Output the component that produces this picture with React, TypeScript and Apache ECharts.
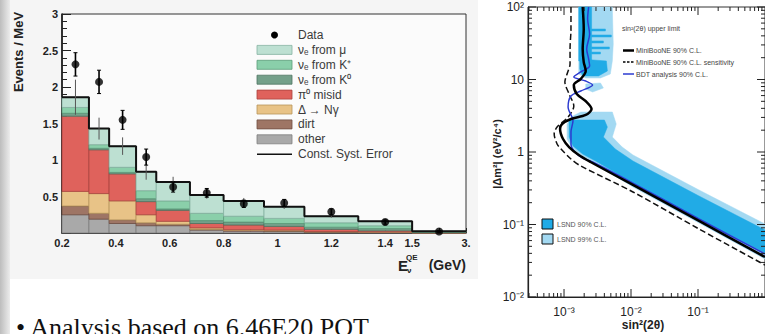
import React, { useEffect, useRef } from "react";
import * as echarts from "echarts";

// ---------------- Left chart: MiniBooNE nu_e candidate spectrum ----------------
const BIN_EDGES = [0.2, 0.3, 0.375, 0.475, 0.55, 0.675, 0.8, 0.95, 1.1, 1.3, 1.5, 3.0];
const OTHER = [0.25, 0.19, 0.13, 0.1, 0.1, 0.04, 0.025, 0.02, 0.01, 0.006, 0.002];
const DIRT = [0.12, 0.08, 0.05, 0.04, 0.02, 0.01, 0.01, 0.01, 0.005, 0.004, 0.001];
const DELTA_NGAMMA = [0.2, 0.27, 0.26, 0.11, 0.04, 0.02, 0.01, 0.01, 0.005, 0.004, 0.001];
const PI0_MISID = [1.03, 0.6, 0.37, 0.18, 0.15, 0.06, 0.065, 0.05, 0.03, 0.016, 0.003];
const NUE_K0 = [0.04, 0.02, 0.02, 0.04, 0.02, 0.04, 0.04, 0.04, 0.03, 0.03, 0.005];
const NUE_KPLUS = [0.08, 0.05, 0.07, 0.11, 0.11, 0.1, 0.08, 0.07, 0.06, 0.04, 0.006];
const NUE_MU = [0.14, 0.22, 0.29, 0.26, 0.26, 0.25, 0.21, 0.16, 0.09, 0.06, 0.007];
const DATA_VALUES = [2.31, 2.07, 1.55, 1.04, 0.63, 0.55, 0.4, 0.41, 0.29, 0.15, 0.02];
const DATA_ERRORS = [0.16, 0.16, 0.13, 0.11, 0.07, 0.06, 0.05, 0.05, 0.04, 0.03, 0.01];
const SYST_ERRORS = [0.24, 0.15, 0.12, 0.11, 0.07, 0.05, 0.04, 0.03, 0.02, 0.015, 0.005];
const X_LABEL_VALUES = [0.2, 0.4, 0.6, 0.8, 1.0, 1.2, 1.4, 1.5, 3.0];
const X_LABEL_TEXTS = ["0.2", "0.4", "0.6", "0.8", "1", "1.2", "1.4", "1.5", "3."];
const Y_LABEL_VALUES = [0.5, 1, 1.5, 2, 2.5, 3];
const Y_LABEL_TEXTS = ["0.5", "1", "1.5", "2", "2.5", "3"];

const LAYERS = [
  { name: "other", values: OTHER, color: "#a9a9a9", edge: "#7d7d7d" },
  { name: "dirt", values: DIRT, color: "#9e7565", edge: "#6e4e42" },
  { name: "Δ → Nγ", values: DELTA_NGAMMA, color: "#e8c387", edge: "#b8955c" },
  { name: "π⁰ misid", values: PI0_MISID, color: "#df625c", edge: "#a8423d" },
  { name: "νₑ from K⁰", values: NUE_K0, color: "#74a08a", edge: "#4f7562" },
  { name: "νₑ from K⁺", values: NUE_KPLUS, color: "#8acfaa", edge: "#5c9c7a" },
  { name: "νₑ from μ", values: NUE_MU, color: "#bde0d2", edge: "#86b3a2" },
];

// ---------------- Right chart: exclusion contours ----------------
const MB_90_CL = [[1.9e-3, 100], [1.97e-3, 49.7], [1.9e-3, 26.4], [1.97e-3, 17.4], [2.11e-3, 13.1], [1.78e-3, 10.2], [1.4e-3, 8.4], [1.55e-3, 6.31], [2.18e-3, 4.89], [2.58e-3, 3.92], [2.11e-3, 3.24], [1.27e-3, 2.85], [9.35e-4, 2.43], [8.73e-4, 2.08], [9.67e-4, 1.51], [1.19e-3, 1.17], [1.66e-3, 0.909], [2.49e-3, 0.728], [1.07e-2, 0.351], [0.1035, 0.112], [1.0, 0.0356]];
const MB_90_SENS = [[1.27e-3, 100], [1.27e-3, 49.7], [1.23e-3, 26.4], [1.23e-3, 16.4], [1.11e-3, 11.9], [1.03e-3, 9.24], [1.19e-3, 6.31], [1.4e-3, 4.31], [1.15e-3, 3.04], [7.88e-4, 2.21], [7.13e-4, 1.77], [7.88e-4, 1.29], [9.03e-4, 1.1], [1.27e-3, 0.8], [1.78e-3, 0.641], [1.07e-2, 0.281], [0.1035, 0.0867], [1.0, 0.0276]];
const BDT_90_CL = [[2.33e-3, 100], [2.25e-3, 68.3], [2.41e-3, 42.4], [2.18e-3, 26.4], [2.33e-3, 19.2], [2.41e-3, 15.3], [1.78e-3, 12.7], [1.4e-3, 10.8], [2.11e-3, 9.53], [2.67e-3, 8.4], [1.78e-3, 6.94], [1.27e-3, 5.92], [1.15e-3, 4.18], [1.36e-3, 2.68], [1.27e-3, 1.89], [1.27e-3, 1.29], [1.45e-3, 1.0], [1.9e-3, 0.827], [2.67e-3, 0.728], [1.07e-2, 0.373], [0.1035, 0.119], [1.0, 0.0392]];
const LSND99_UPPER = [[1.66e-3, 100], [5.26e-3, 100], [5.43e-3, 30.9], [5.26e-3, 18.0], [4.91e-3, 11.9], [3.5e-3, 10.5], [2.11e-3, 10.5], [1.66e-3, 11.9]];
const LSND99_BLOB = [[2.11e-3, 8.67], [3.5e-3, 8.95], [3.87e-3, 7.64], [2.67e-3, 6.72], [2.11e-3, 7.39]];
const LSND99_LOWER = [[1.78e-3, 3.56], [5.26e-3, 3.56], [6.02e-3, 2.43], [5.26e-3, 1.61], [7.38e-3, 1.17], [1.07e-2, 0.909], [0.1035, 0.299], [1.0, 0.1016], [1.0, 0.0334], [0.1035, 0.105], [1.07e-2, 0.329], [2.96e-3, 0.683], [1.9e-3, 0.881], [1.36e-3, 1.1], [1.11e-3, 1.51], [1.11e-3, 2.43], [1.36e-3, 3.14]];
const LSND90_UPPER = [[1.66e-3, 100], [2.58e-3, 100], [2.58e-3, 18.0], [1.66e-3, 18.0]];
const LSND90_BLOCK = [[1.72e-3, 19.2], [4.29e-3, 18.0], [4.44e-3, 13.1], [3.27e-3, 11.2], [1.9e-3, 11.2], [1.72e-3, 14.0]];
const LSND90_LOWER = [[1.19e-3, 2.76], [4.01e-3, 2.76], [4.44e-3, 2.21], [3.87e-3, 1.61], [5.82e-3, 1.1], [1.07e-2, 0.751], [0.1035, 0.247], [1.0, 0.0839], [1.0, 0.0404], [0.1035, 0.119], [1.07e-2, 0.373], [2.96e-3, 0.751], [1.9e-3, 0.938], [1.36e-3, 1.21], [1.19e-3, 1.61]];
// [sinMin, sinMax, dmMin, dmMax]
const LSND90_STRIPES = [[2.58e-3, 4.15e-3, 46.7, 49.7], [2.58e-3, 5.08e-3, 38.6, 41.1], [2.58e-3, 3.87e-3, 31.9, 34.0], [2.58e-3, 4.75e-3, 26.4, 28.1], [2.58e-3, 3.5e-3, 22.5, 23.9]];
const X_LOG_EXPONENTS = [-3, -2, -1];
const X_LOG_LABELS = ["10⁻³", "10⁻²", "10⁻¹"];
const Y_LOG_EXPONENTS = [-2, -1, 0, 1, 2];
const Y_LOG_LABELS = ["10⁻²", "10⁻¹", "1", "10", "10²"];
const X_LOG_MIN = 2.9e-4;
const X_LOG_MAX = 1;
const Y_LOG_MIN = 0.01;
const Y_LOG_MAX = 100;

const FONT = '"Liberation Sans", Arial, Helvetica, sans-serif';
const LSND90_COLOR = "#21abe6";
const LSND99_COLOR = "#a3d9f2";
const BDT_COLOR = "#2c3bd0";

// energy -> display coordinate (last bin 1.5-3 GeV compressed)
const dispE = (e: number) => (e <= 1.5 ? e : 1.5 + (e - 1.5) * (0.2 / 1.5));

function buildOption(): any {
  const nb = BIN_EDGES.length - 1;
  const base = new Array(nb).fill(0);
  const centers = BIN_EDGES.slice(0, -1).map((e, i) => dispE((e + BIN_EDGES[i + 1]) / 2));

  const layerSeries = LAYERS.map((layer) => {
    const data = layer.values.map((v, i) => {
      const b = base[i];
      base[i] = b + v;
      return [dispE(BIN_EDGES[i]), dispE(BIN_EDGES[i + 1]), b, b + v];
    });
    return {
      type: "custom",
      name: layer.name,
      xAxisIndex: 0,
      yAxisIndex: 0,
      z: 2,
      encode: { x: [0, 1], y: [2, 3] },
      data,
      renderItem: (_p: any, api: any) => {
        const tl = api.coord([api.value(0), api.value(3)]);
        const br = api.coord([api.value(1), api.value(2)]);
        return {
          type: "rect",
          shape: { x: tl[0], y: tl[1], width: br[0] - tl[0], height: br[1] - tl[1] },
          style: { fill: layer.color, stroke: layer.edge, lineWidth: 0.8 },
        };
      },
    };
  });
  const totals = base.slice();
  const stepData = BIN_EDGES.map((e, i) => [dispE(e), totals[Math.min(i, nb - 1)]]);

  const vbar = (withCaps: boolean, color: string, width: number) => (_p: any, api: any) => {
    const x = api.value(0), y = api.value(1), err = api.value(2);
    const lo = api.coord([x, Math.max(0, y - err)]);
    const hi = api.coord([x, y + err]);
    const children: any[] = [
      { type: "line", shape: { x1: lo[0], y1: lo[1], x2: hi[0], y2: hi[1] }, style: { stroke: color, lineWidth: width } },
    ];
    if (withCaps) {
      children.push({ type: "line", shape: { x1: lo[0] - 2, y1: lo[1], x2: lo[0] + 2, y2: lo[1] }, style: { stroke: color, lineWidth: 1 } });
      children.push({ type: "line", shape: { x1: hi[0] - 2, y1: hi[1], x2: hi[0] + 2, y2: hi[1] }, style: { stroke: color, lineWidth: 1 } });
    }
    return { type: "group", children };
  };

  const polySeries = (polys: number[][][], color: string, z: number) => ({
    type: "custom",
    xAxisIndex: 1,
    yAxisIndex: 1,
    z,
    encode: { x: 0, y: 1 },
    data: polys.map((p, i) => [p[0][0], p[0][1], i]),
    renderItem: (_p: any, api: any) => {
      const poly = polys[api.value(2)];
      return {
        type: "polygon",
        shape: { points: poly.map((pt) => api.coord(pt)) },
        style: { fill: color, stroke: color, lineWidth: 0.5 },
      };
    },
  });

  const stripePolys = LSND90_STRIPES.map(([s0, s1, m0, m1]) => [[s0, m0], [s1, m0], [s1, m1], [s0, m1]]);

  // tick positions for the log-log frame
  const xMinor: number[] = [];
  for (let k = -4; k <= -1; k++) for (let m = 2; m <= 9; m++) { const v = m * Math.pow(10, k); if (v > X_LOG_MIN && v < X_LOG_MAX) xMinor.push(v); }
  const yMinor: number[] = [];
  for (let k = -2; k <= 1; k++) for (let m = 2; m <= 9; m++) yMinor.push(m * Math.pow(10, k));

  const tickSeries = {
    type: "custom",
    xAxisIndex: 1,
    yAxisIndex: 1,
    z: 6,
    encode: { x: 0, y: 1 },
    data: [[1e-3, 1]],
    renderItem: (params: any, api: any) => {
      const cs = params.coordSys;
      const L = cs.x, R = cs.x + cs.width, T = cs.y, B = cs.y + cs.height;
      const ch: any[] = [];
      const ln = (x1: number, y1: number, x2: number, y2: number) =>
        ch.push({ type: "line", shape: { x1, y1, x2, y2 }, style: { stroke: "#222", lineWidth: 1 } });
      X_LOG_EXPONENTS.forEach((e) => { const px = api.coord([Math.pow(10, e), 1])[0]; ln(px, B, px, B - 8); ln(px, T, px, T + 8); });
      xMinor.forEach((v) => { const px = api.coord([v, 1])[0]; ln(px, B, px, B - 4); ln(px, T, px, T + 4); });
      Y_LOG_EXPONENTS.forEach((e) => { const py = api.coord([1e-3, Math.pow(10, e)])[1]; ln(L, py, L + 8, py); ln(R, py, R - 8, py); });
      yMinor.forEach((v) => { const py = api.coord([1e-3, v])[1]; ln(L, py, L + 4, py); ln(R, py, R - 4, py); });
      return { type: "group", children: ch };
    },
  };

  const lineSeries = (data: number[][], color: string, width: number, type: string, z: number) => ({
    type: "line",
    xAxisIndex: 1,
    yAxisIndex: 1,
    data,
    symbol: "none",
    smooth: 0.3,
    z,
    lineStyle: { color, width, type },
  });

  // ---------- graphic elements: legends, titles, slide text ----------
  const g: any[] = [];
  const text = (x: number, y: number, t: string, o: any = {}) =>
    g.push({
      type: "text", x, y, rotation: o.rotation || 0, z: 20,
      style: {
        text: t, fill: o.fill || "#222", fontSize: o.size || 12, fontWeight: o.weight || "normal",
        fontFamily: o.family || FONT, textAlign: o.align || "left", textVerticalAlign: o.valign || "middle",
      },
    });

  // left legend
  const legendLayers = LAYERS.slice().reverse();
  const rowY = (i: number) => 35 + 14.9 * i;
  g.push({ type: "circle", shape: { cx: 274.5, cy: rowY(0), r: 3.5 }, style: { fill: "#000" }, z: 20 });
  text(298, rowY(0), "Data", { fill: "#3a3a3a" });
  legendLayers.forEach((layer, i) => {
    g.push({ type: "rect", shape: { x: 257, y: rowY(i + 1) - 4.5, width: 35, height: 9 }, style: { fill: layer.color, stroke: layer.edge, lineWidth: 0.8 }, z: 20 });
    text(298, rowY(i + 1), layer.name, { fill: "#3a3a3a" });
  });
  g.push({ type: "line", shape: { x1: 257, y1: rowY(8), x2: 292, y2: rowY(8) }, style: { stroke: "#111", lineWidth: 1.5 }, z: 20 });
  text(298, rowY(8), "Const. Syst. Error", { fill: "#3a3a3a" });

  // left axis titles
  text(18, 52, "Events / MeV", { rotation: Math.PI / 2, align: "center", weight: "bold", size: 13 });
  text(398, 265, "E", { weight: "bold", size: 15 });
  text(406, 257, "QE", { weight: "bold", size: 8 });
  text(407, 270, "ν", { weight: "bold", size: 8 });
  text(466, 265, "(GeV)", { weight: "bold", size: 14, align: "right" });

  // right legend
  text(622, 28, "sin²(2θ) upper limit", { size: 7, fill: "#444" });
  g.push({ type: "line", shape: { x1: 623, y1: 50.5, x2: 634, y2: 50.5 }, style: { stroke: "#000", lineWidth: 2.5 }, z: 20 });
  text(636, 50.5, "MiniBooNE 90% C.L.", { size: 7, fill: "#444" });
  g.push({ type: "line", shape: { x1: 623, y1: 62, x2: 634, y2: 62 }, style: { stroke: "#000", lineWidth: 1.5, lineDash: [2.5, 1.5] }, z: 20 });
  text(636, 62, "MiniBooNE 90% C.L. sensitivity", { size: 7, fill: "#444" });
  g.push({ type: "line", shape: { x1: 623, y1: 74, x2: 634, y2: 74 }, style: { stroke: BDT_COLOR, lineWidth: 1.5 }, z: 20 });
  text(636, 74, "BDT analysis 90% C.L.", { size: 7, fill: "#444" });
  g.push({ type: "rect", shape: { x: 542, y: 219, width: 11, height: 10 }, style: { fill: LSND90_COLOR, stroke: "#111", lineWidth: 1 }, z: 20 });
  text(557, 224.5, "LSND 90% C.L.", { size: 7, fill: "#555" });
  g.push({ type: "rect", shape: { x: 542, y: 234, width: 11, height: 10 }, style: { fill: LSND99_COLOR, stroke: "#111", lineWidth: 1 }, z: 20 });
  text(557, 239.5, "LSND 99% C.L.", { size: 7, fill: "#555" });

  // right axis titles
  text(497, 154, "|Δm²| (eV²/c⁴)", { rotation: Math.PI / 2, align: "center", weight: "bold", size: 11 });
  text(643, 325, "sin²(2θ)", { align: "center", weight: "bold", size: 12 });

  // slide bullet
  text(16, 314, "• Analysis based on 6.46E20 POT", { family: '"Liberation Serif", "Times New Roman", serif', size: 26, fill: "#111", valign: "top" });

  const logLabel = (exps: number[], labels: string[]) => (v: number) => {
    const e = Math.log10(v);
    const r = Math.round(e);
    if (Math.abs(e - r) > 1e-6) return "";
    const i = exps.indexOf(r);
    return i >= 0 ? labels[i] : "";
  };

  return {
    animation: false,
    backgroundColor: "transparent",
    grid: [
      { left: 62, top: 14, width: 404, height: 219, show: true, borderColor: "#333", borderWidth: 1, backgroundColor: "#fbfbfb" },
      { left: 528, top: 7, width: 237, height: 290, show: true, borderColor: "#333", borderWidth: 1, backgroundColor: "#ffffff" },
    ],
    xAxis: [
      {
        type: "value", gridIndex: 0, min: 0.2, max: 1.7, interval: 0.1,
        axisLine: { lineStyle: { color: "#111", width: 1.5 } },
        axisTick: { inside: true, length: 5, lineStyle: { color: "#222" } },
        splitLine: { show: false },
        axisLabel: {
          margin: 4, fontSize: 11, fontWeight: "bold", color: "#222", fontFamily: FONT,
          formatter: (v: number) => {
            const i = X_LABEL_VALUES.findIndex((e) => Math.abs(dispE(e) - v) < 1e-6);
            return i >= 0 ? X_LABEL_TEXTS[i] : "";
          },
        },
      },
      {
        type: "log", logBase: 10, gridIndex: 1, min: X_LOG_MIN, max: X_LOG_MAX,
        axisLine: { lineStyle: { color: "#222", width: 1.2 } },
        axisTick: { show: false },
        splitLine: { show: false },
        axisLabel: { margin: 9, fontSize: 12, color: "#222", fontFamily: FONT, showMinLabel: false, showMaxLabel: false, formatter: logLabel(X_LOG_EXPONENTS, X_LOG_LABELS) },
      },
    ],
    yAxis: [
      {
        type: "value", gridIndex: 0, min: 0, max: 3, interval: 0.5,
        axisLine: { show: true, lineStyle: { color: "#111", width: 1.5 } },
        axisTick: { show: true, inside: true, length: 9, lineStyle: { color: "#222" } },
        minorTick: { show: true, splitNumber: 5, length: 5, lineStyle: { color: "#222" } },
        splitLine: { show: false },
        axisLabel: {
          margin: 4, fontSize: 11, fontWeight: "bold", color: "#222", fontFamily: FONT,
          formatter: (v: number) => {
            const i = Y_LABEL_VALUES.findIndex((e) => Math.abs(e - v) < 1e-6);
            return i >= 0 ? Y_LABEL_TEXTS[i] : "";
          },
        },
      },
      {
        type: "log", logBase: 10, gridIndex: 1, min: Y_LOG_MIN, max: Y_LOG_MAX,
        axisLine: { show: true, lineStyle: { color: "#222", width: 1.2 } },
        axisTick: { show: false },
        splitLine: { show: false },
        axisLabel: { margin: 4, fontSize: 12, color: "#222", fontFamily: FONT, formatter: logLabel(Y_LOG_EXPONENTS, Y_LOG_LABELS) },
      },
    ],
    graphic: { elements: g },
    series: [
      ...layerSeries,
      {
        type: "line", xAxisIndex: 0, yAxisIndex: 0, data: stepData, step: "end", symbol: "none", z: 5,
        lineStyle: { color: "#111", width: 2 },
      },
      {
        type: "custom", xAxisIndex: 0, yAxisIndex: 0, z: 6, encode: { x: 0, y: 1 },
        data: totals.map((t, i) => [centers[i], t, SYST_ERRORS[i]]),
        renderItem: vbar(false, "#555", 1),
      },
      {
        type: "custom", xAxisIndex: 0, yAxisIndex: 0, z: 7, encode: { x: 0, y: 1 },
        data: DATA_VALUES.map((v, i) => [centers[i], v, DATA_ERRORS[i]]),
        renderItem: vbar(true, "#000", 1.6),
      },
      {
        type: "scatter", name: "Data", xAxisIndex: 0, yAxisIndex: 0, z: 8,
        data: DATA_VALUES.map((v, i) => [centers[i], v]),
        symbol: "circle", symbolSize: 8, itemStyle: { color: "#000" },
      },
      polySeries([LSND99_UPPER, LSND99_BLOB, LSND99_LOWER], LSND99_COLOR, 1),
      polySeries([LSND90_UPPER, LSND90_BLOCK, LSND90_LOWER, ...stripePolys], LSND90_COLOR, 2),
      lineSeries(MB_90_SENS, "#111", 1.5, "dashed", 3),
      lineSeries(BDT_90_CL, BDT_COLOR, 1.5, "solid", 4),
      lineSeries(MB_90_CL, "#000", 2.5, "solid", 5),
      tickSeries,
    ],
  };
}

export default function App() {
  const ref = useRef<HTMLDivElement>(null);
  useEffect(() => {
    if (!ref.current) return;
    const chart = echarts.init(ref.current, null, { renderer: "svg" });
    chart.setOption(buildOption());
    return () => chart.dispose();
  }, []);
  return (
    <div style={{ position: "absolute", left: 0, top: 0, width: 765, height: 334, background: "#ffffff", overflow: "hidden" }}>
      <div style={{ position: "absolute", left: 8, top: 0, width: 470, height: 279, background: "#f5f5f5" }} />
      <div style={{ position: "absolute", left: 0, top: 0, width: 10, height: 334, background: "linear-gradient(to right, #bdbdbd, #ececec)" }} />
      <div ref={ref} style={{ position: "absolute", left: 0, top: 0, width: 765, height: 334 }} />
    </div>
  );
}
